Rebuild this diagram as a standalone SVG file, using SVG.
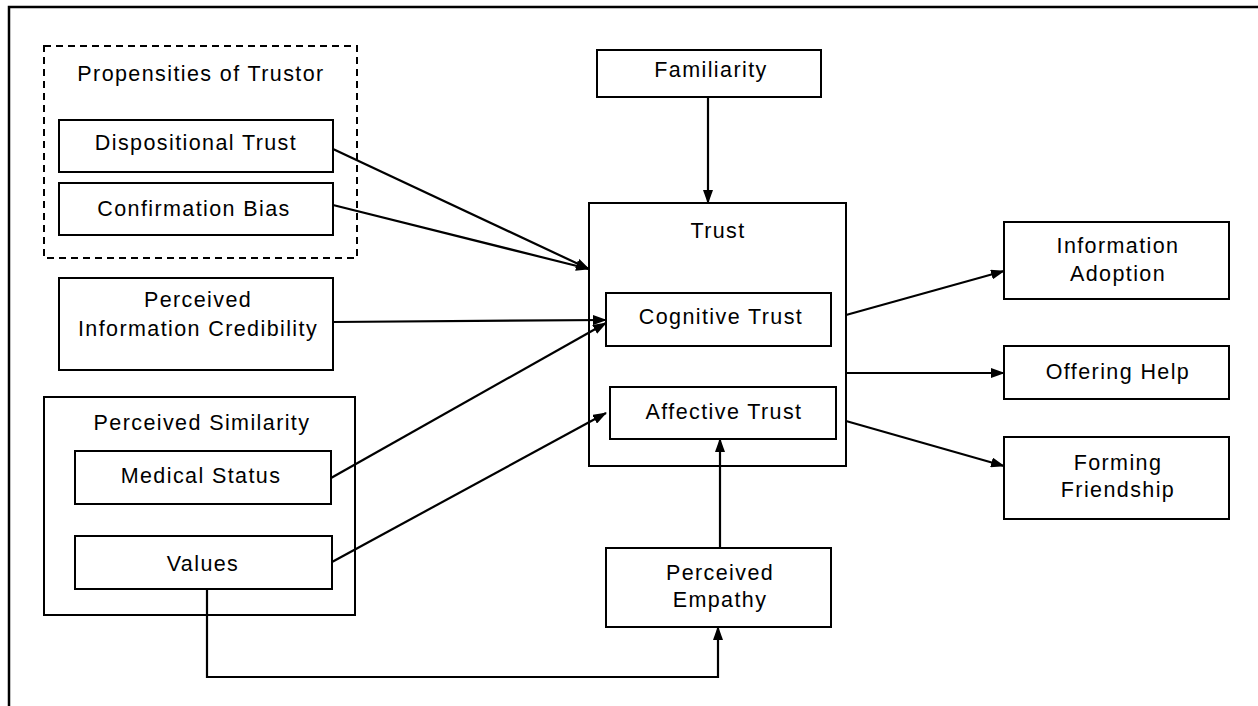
<svg xmlns="http://www.w3.org/2000/svg" width="1258" height="706" viewBox="0 0 1258 706">
<style>
.box{fill:#fff;stroke:#000;stroke-width:2}
.dash{fill:none;stroke:#000;stroke-width:2;stroke-dasharray:7 5}
.t{font-family:"Liberation Sans",Arial,sans-serif;font-size:21.5px;letter-spacing:1.4px;fill:#000;text-anchor:middle}
.c{fill:none;stroke:#000;stroke-width:2.2}
.a{marker-end:url(#ah)}
</style>
<defs>
<marker id="ah" viewBox="0 0 14 10" refX="13" refY="5" markerWidth="14" markerHeight="10" markerUnits="userSpaceOnUse" orient="auto">
<path d="M0,0 L14,5 L0,10 z" fill="#000"/>
</marker>
</defs>
<rect width="1258" height="706" fill="#fff"/>
<g id="frame">
<path d="M9,706 V7 H1258" fill="none" stroke="#000" stroke-width="2.5"/>
</g>
<g id="propensities">
<rect class="dash" x="44" y="46" width="313" height="212"/>
<text class="t" x="201" y="81">Propensities of Trustor</text>
</g>
<g id="dispositional">
<rect class="box" x="59" y="120" width="274" height="52"/>
<text class="t" x="196" y="150">Dispositional Trust</text>
</g>
<g id="confirmation">
<rect class="box" x="59" y="183" width="274" height="52"/>
<text class="t" x="194" y="216">Confirmation Bias</text>
</g>
<g id="credibility">
<rect class="box" x="59" y="278" width="274" height="92"/>
<text class="t" x="198" y="307">Perceived</text>
<text class="t" x="198" y="336">Information Credibility</text>
</g>
<g id="similarity">
<rect class="box" x="44" y="397" width="311" height="218"/>
<text class="t" x="202" y="430">Perceived Similarity</text>
</g>
<g id="medical">
<rect class="box" x="75" y="451" width="256" height="53"/>
<text class="t" x="201" y="483">Medical Status</text>
</g>
<g id="values">
<rect class="box" x="75" y="536" width="257" height="53"/>
<text class="t" x="203" y="571">Values</text>
</g>
<g id="familiarity">
<rect class="box" x="597" y="50" width="224" height="47"/>
<text class="t" x="711" y="77">Familiarity</text>
</g>
<g id="trust">
<rect class="box" x="589" y="203" width="257" height="263"/>
<text class="t" x="718" y="238">Trust</text>
</g>
<g id="cognitive">
<rect class="box" x="606" y="293" width="225" height="53"/>
<text class="t" x="721" y="324">Cognitive Trust</text>
</g>
<g id="affective">
<rect class="box" x="610" y="387" width="226" height="52"/>
<text class="t" x="724" y="419">Affective Trust</text>
</g>
<g id="empathy">
<rect class="box" x="606" y="548" width="225" height="79"/>
<text class="t" x="720" y="580">Perceived</text>
<text class="t" x="720" y="607">Empathy</text>
</g>
<g id="adoption">
<rect class="box" x="1004" y="222" width="225" height="77"/>
<text class="t" x="1118" y="253">Information</text>
<text class="t" x="1118" y="281">Adoption</text>
</g>
<g id="help">
<rect class="box" x="1004" y="346" width="225" height="53"/>
<text class="t" x="1118" y="379">Offering Help</text>
</g>
<g id="friendship">
<rect class="box" x="1004" y="437" width="225" height="82"/>
<text class="t" x="1118" y="470">Forming</text>
<text class="t" x="1118" y="497">Friendship</text>
</g>
<g id="connectors">
<line class="c a" x1="333" y1="149" x2="589" y2="269"/>
<line class="c a" x1="333" y1="205" x2="589" y2="269"/>
<line class="c a" x1="333" y1="322" x2="606" y2="320"/>
<line class="c a" x1="331" y1="478" x2="606" y2="323"/>
<line class="c a" x1="332" y1="562" x2="606" y2="413"/>
<line class="c a" x1="708" y1="97" x2="708" y2="203"/>
<line class="c a" x1="720" y1="548" x2="720" y2="439"/>
<polyline class="c a" points="207,589 207,677 718,677 718,627"/>
<line class="c a" x1="846" y1="315" x2="1004" y2="271"/>
<line class="c a" x1="846" y1="373" x2="1004" y2="373"/>
<line class="c a" x1="846" y1="421" x2="1004" y2="466"/>
</g>
</svg>
